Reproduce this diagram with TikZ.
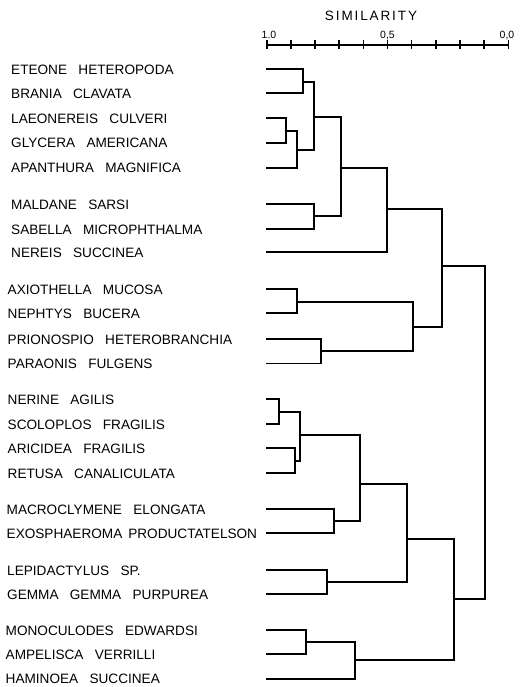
\documentclass[tikz,border=0pt]{standalone}
\usepackage{fontspec}
\setmainfont{Liberation Sans}[WordSpace=3]
\newfontfamily\simfont{Liberation Sans}[LetterSpace=14]
\newfontfamily\tickfont{Liberation Sans}
\begin{document}
\begin{tikzpicture}[x=1pt,y=-1pt,
  tree/.style={line width=1.7pt,line join=miter},
  axisline/.style={line width=2.2pt},
  ticks/.style={line width=1.6pt},
  lab/.style={anchor=base west,inner sep=0pt,font=\fontsize{13.6}{16}\selectfont},
  ticklab/.style={anchor=base,inner sep=0pt,font=\tickfont\fontsize{10.5}{12}\selectfont},
  title/.style={anchor=base,inner sep=0pt,font=\simfont\fontsize{13.5}{15}\selectfont}]
\useasboundingbox (0,0) rectangle (529,687);
% axis
\node[title] (sim) at (371,21) {SIMILARITY};
\coordinate (ax0) at (266.7,45);
\coordinate (ax1) at (508.3,45);
\draw[axisline] (ax0) -- (ax1);
\foreach \i in {0,...,10}{
  \coordinate (tk\i) at ({266.7+\i*24.16},45);
  \draw[ticks] ([yshift=-4pt]tk\i) -- ([yshift=4.5pt]tk\i);
}
\node[ticklab] (t10) at (269,39) {1.0};
\node[ticklab] (t05) at (387.5,39) {0,5};
\node[ticklab] (t00) at (507,39) {0,0};
% labels
\foreach \n/\y/\lx/\t in {
 1/69.3/11/ETEONE HETEROPODA,
 2/93.3/11/BRANIA CLAVATA,
 3/118.3/11/LAEONEREIS CULVERI,
 4/142.7/11/GLYCERA AMERICANA,
 5/167.7/11/APANTHURA MAGNIFICA,
 6/204.3/11/MALDANE SARSI,
 7/229/11/SABELLA MICROPHTHALMA,
 8/252.3/11/NEREIS SUCCINEA,
 9/289/7.5/AXIOTHELLA MUCOSA,
 10/313.3/7.5/NEPHTYS BUCERA,
 11/339/7.5/PRIONOSPIO HETEROBRANCHIA,
 12/363.5/7.5/PARAONIS FULGENS,
 13/399.3/7.5/NERINE AGILIS,
 14/424/7.5/SCOLOPLOS FRAGILIS,
 15/448/7.5/ARICIDEA FRAGILIS,
 16/473.3/7.5/RETUSA CANALICULATA,
 17/509.3/6.5/MACROCLYMENE ELONGATA,
 18/533.3/6.5/EXOSPHAEROMA\hspace{6pt}PRODUCTATELSON,
 19/570/7/LEPIDACTYLUS SP.,
 20/594.3/7/GEMMA GEMMA PURPUREA,
 21/630/5.5/MONOCULODES EDWARDSI,
 22/654.3/5.5/AMPELISCA VERRILLI,
 23/678.7/5.5/HAMINOEA SUCCINEA}{
  \node[lab] (t\n) at (\lx,\y+5) {\t};
  \coordinate (l\n) at (266,\y);
}
% internal nodes (x of merge, y of outgoing branch)
\coordinate (A) at (303.3,82);
\coordinate (B) at (286,130.7);
\coordinate (C) at (297.3,150);
\coordinate (D) at (314.3,116.7);
\coordinate (E) at (314.3,215.7);
\coordinate (F) at (340.7,167.7);
\coordinate (G) at (386.7,209.3);
\coordinate (H) at (296.7,301.7);
\coordinate (I) at (321,350.7);
\coordinate (J) at (412.7,326.7);
\coordinate (K) at (441.7,266);
\coordinate (L) at (279.3,411.7);
\coordinate (M) at (295,460.7);
\coordinate (N) at (300,435);
\coordinate (O) at (334,521);
\coordinate (P) at (360,484);
\coordinate (Q) at (327.3,582.3);
\coordinate (R) at (406.7,538.7);
\coordinate (S) at (306,642);
\coordinate (T) at (355,660);
\coordinate (U) at (454,599);
\coordinate (V) at (485,432);
\foreach \a/\b/\p in {l1/l2/A, l3/l4/B, B/l5/C, A/C/D, l6/l7/E, D/E/F, F/l8/G,
  l9/l10/H, l11/l12/I, H/I/J, G/J/K, l13/l14/L, l15/l16/M, L/M/N, l17/l18/O,
  N/O/P, l19/l20/Q, P/Q/R, l21/l22/S, S/l23/T, R/T/U, K/U/V}{
  \draw[tree] (\a) -- (\a -| \p) -- (\b -| \p) -- (\b);
}
\end{tikzpicture}
\end{document}
